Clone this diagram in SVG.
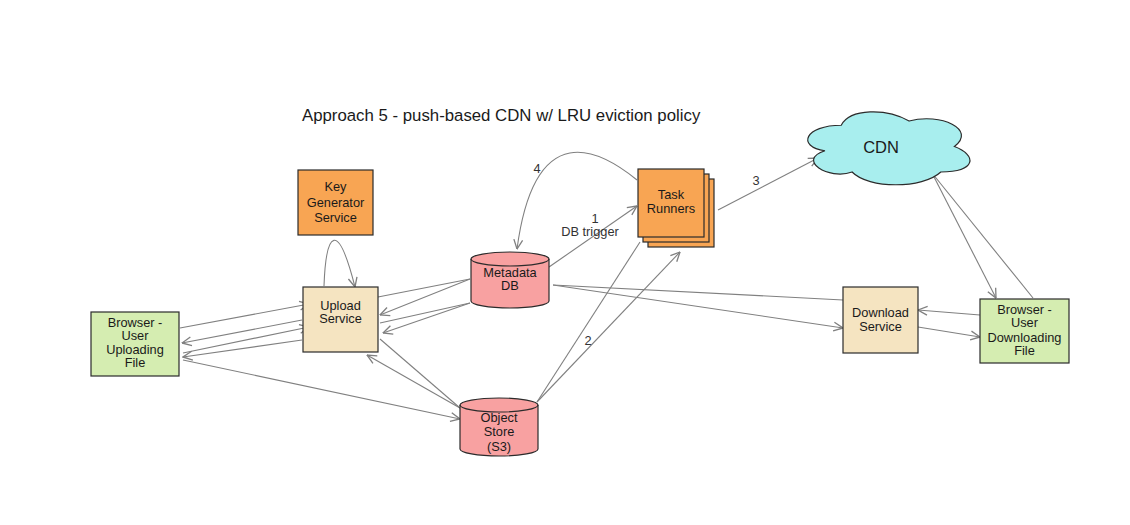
<svg xmlns="http://www.w3.org/2000/svg" width="1130" height="525" viewBox="0 0 1130 525">
<style>
.t{font-family:"Liberation Sans",Arial,sans-serif;font-size:12.8px;fill:#1a1a1a;text-anchor:middle}
.lbl{font-family:"Liberation Sans",Arial,sans-serif;font-size:12.8px;fill:#333;text-anchor:middle}
.title{font-family:"Liberation Sans",Arial,sans-serif;font-size:16.8px;fill:#1a1a1a}
.n{stroke:#2b2b2b;stroke-width:1.2}
.orange{fill:#F8A553}
.beige{fill:#F5E4C1}
.green{fill:#D5EDB1}
.pink{fill:#F8A1A1}
.cyan{fill:#A8EEEE}
.c{fill:none;stroke:#808080;stroke-width:1.1}
.a{marker-end:url(#arr)}
</style>
<defs>
<marker id="arr" viewBox="0 0 10 10" refX="9.5" refY="5" markerWidth="11" markerHeight="11" markerUnits="userSpaceOnUse" orient="auto">
<path d="M1,1 L9.5,5 L1,9" fill="none" stroke="#808080" stroke-width="1.2"/>
</marker>
</defs>
<rect width="1130" height="525" fill="#ffffff"/>
<text class="title" x="302" y="121">Approach 5 - push-based CDN w/ LRU eviction policy</text>

<g id="connectors">
<path class="c a" d="M324,286 C326,230 338,220 355,287"/>
<path class="c a" d="M180,328 L309,304"/>
<path class="c a" d="M302,320 L182,343"/>
<path class="c a" d="M183,353 L309,327"/>
<path class="c a" d="M302,340 L183,357"/>
<path class="c a" d="M183,360 L460,419"/>
<path class="c" d="M378,297 L470,279"/>
<path class="c a" d="M470,279 L380,315"/>
<path class="c" d="M380,323 L470,303"/>
<path class="c a" d="M470,303 L383,333"/>
<path class="c" d="M380,339 L460,408"/>
<path class="c a" d="M460,408 L367,355"/>
<path class="c a" d="M549,267 L637,206"/>
<path class="c" d="M537,402 L640,242"/>
<path class="c a" d="M537,402 L680,252"/>
<path class="c a" d="M637,180 C600,150 535,115 517,249"/>
<path class="c a" d="M718,210 L818,158"/>
<path class="c" d="M553,285 L843,300"/>
<path class="c a" d="M553,285 L843,328"/>
<path class="c a" d="M980,315 L918,310"/>
<path class="c a" d="M918,327 L980,337"/>
<path class="c a" d="M932,173 L996,298"/>
<path class="c" d="M1033,298 L932,173"/>
<text class="lbl" x="595" y="223">1</text>
<text class="lbl" x="590" y="236">DB trigger</text>
<text class="lbl" x="588" y="345">2</text>
<text class="lbl" x="756" y="185">3</text>
<text class="lbl" x="537" y="173">4</text>
</g>

<g id="keygen">
<rect class="n orange" x="298" y="170" width="75" height="65"/>
<text class="t" x="335.5" y="191">Key</text>
<text class="t" x="335.5" y="207">Generator</text>
<text class="t" x="335.5" y="222">Service</text>
</g>

<g id="upload">
<rect class="n beige" x="303" y="287" width="75" height="65"/>
<text class="t" x="340.5" y="310">Upload</text>
<text class="t" x="340.5" y="323">Service</text>
</g>

<g id="browser-up">
<rect class="n green" x="91" y="312" width="88" height="64"/>
<text class="t" x="135" y="327">Browser -</text>
<text class="t" x="135" y="340">User</text>
<text class="t" x="135" y="354">Uploading</text>
<text class="t" x="135" y="367">File</text>
</g>

<g id="metadata">
<path class="n pink" d="M471,259 A39,7 0 0 1 549,259 V301 A39,7 0 0 1 471,301 Z"/>
<path class="n" fill="none" d="M471,259 A39,7 0 0 0 549,259"/>
<text class="t" x="510" y="277">Metadata</text>
<text class="t" x="510" y="290">DB</text>
</g>

<g id="objectstore">
<path class="n pink" d="M460,405 A39,7 0 0 1 538,405 V449 A39,7 0 0 1 460,449 Z"/>
<path class="n" fill="none" d="M460,405 A39,7 0 0 0 538,405"/>
<text class="t" x="499" y="422">Object</text>
<text class="t" x="499" y="436">Store</text>
<text class="t" x="499" y="451">(S3)</text>
</g>

<g id="taskrunners">
<rect class="n orange" x="648" y="179" width="66" height="68"/>
<rect class="n orange" x="643" y="174" width="66" height="68"/>
<rect class="n orange" x="638" y="169" width="66" height="68"/>
<text class="t" x="671" y="199">Task</text>
<text class="t" x="671" y="213">Runners</text>
</g>

<g id="cdn">
<path class="n cyan" d="M841.25,125.25 C805.05,125.25 796,146.5 824.96,150.75 C796,160.1 828.58,180.5 852.11,172 C868.4,189 922.7,189 940.8,172 C977,172 977,155 954.4,146.5 C977,129.5 940.8,112.5 909.1,121 C886.5,108.25 850.3,108.25 841.25,125.25 Z"/>
<text class="t" x="881" y="153" style="font-size:16.5px">CDN</text>
</g>

<g id="download">
<rect class="n beige" x="843" y="287" width="75" height="66"/>
<text class="t" x="880.5" y="317">Download</text>
<text class="t" x="880.5" y="331">Service</text>
</g>

<g id="browser-down">
<rect class="n green" x="980" y="299" width="89" height="64"/>
<text class="t" x="1024.5" y="314">Browser -</text>
<text class="t" x="1024.5" y="327">User</text>
<text class="t" x="1024.5" y="342">Downloading</text>
<text class="t" x="1024.5" y="355">File</text>
</g>
</svg>
